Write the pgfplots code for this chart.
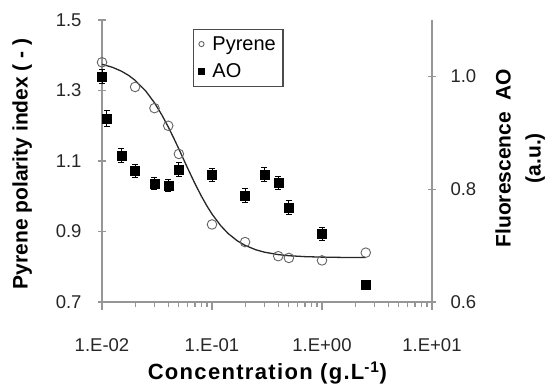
\documentclass[border=0pt]{standalone}
\usepackage{pgfplots}
\pgfplotsset{compat=1.18}
\usepackage{fontspec}
\setmainfont{Liberation Sans}
\definecolor{axgray}{RGB}{150,150,150}
\definecolor{mkgray}{RGB}{100,100,100}

\pgfplotstableread{
x y
0.01 1.38
0.02 1.31
0.03 1.25
0.04 1.20
0.05 1.12
0.1 0.92
0.2 0.87
0.4 0.83
0.5 0.825
1.0 0.818
2.5 0.84
}\pyrene

\pgfplotstableread{
x y e
0.01 1.000 0.012
0.011 0.925 0.014
0.015 0.860 0.013
0.02 0.832 0.012
0.03 0.810 0.011
0.04 0.807 0.011
0.05 0.835 0.012
0.1 0.825 0.012
0.2 0.789 0.012
0.3 0.826 0.012
0.4 0.811 0.012
0.5 0.768 0.012
1.0 0.721 0.012
2.5 0.630 0.008
}\ao

\pgfplotstableread{
x y
0.01 1.3745
0.0125 1.3656
0.015 1.3549
0.0175 1.3427
0.02 1.3289
0.025 1.2984
0.03 1.2652
0.035 1.2307
0.04 1.1969
0.045 1.1643
0.05 1.1340
0.055 1.1056
0.06 1.0799
0.07 1.0359
0.08 1.0006
0.09 0.9722
0.1 0.9496
0.12 0.9165
0.14 0.8945
0.17 0.8735
0.2 0.8606
0.25 0.8482
0.3 0.8413
0.4 0.8345
0.5 0.8313
0.7 0.8287
1.0 0.8273
1.5 0.8265
2.5 0.8260
}\fitc

\begin{document}
\begin{tikzpicture}
\begin{axis}[
  scale only axis, width=330pt, height=282pt,
  xmode=log, xmin=0.01, xmax=10,
  axis line style={axgray, line width=1.4pt, -},
  every tick/.style={axgray, line width=1.1pt},
  tick label style={font=\fontsize{18.5}{20}\selectfont, text=black!85},
  /pgf/number format/assume math mode=true,
  clip=false,
  ymin=0.7, ymax=1.5,
  axis x line*=bottom, axis y line*=left,
  ytick={0.7,0.9,1.1,1.3,1.5},
  yticklabel style={/pgf/number format/fixed, /pgf/number format/precision=1, /pgf/number format/fixed zerofill, xshift=-13pt},
  xtick={0.01,0.1,1,10}, xticklabels={1.E-02,1.E-01,1.E+00,1.E+01},
  xticklabel style={yshift=-25pt},
  ytick align=center, xtick align=outside,
  major tick length=8pt, minor tick length=5pt,
  xlabel={\addfontfeatures{LetterSpace=6}\textbf{Concentration (g.L\textsuperscript{-1})}},
  xlabel style={at={(axis description cs:0.503,-0.252)}, anchor=center, font=\fontsize{22}{24}\selectfont},
  ylabel={\textbf{Pyrene polarity index ( - )}},
  ylabel style={at={(axis description cs:-0.242,0.49)}, anchor=center, font=\fontsize{21}{23}\selectfont},
  legend style={name=leg, at={(axis description cs:0.276,0.968)}, anchor=north west, draw=black!70, fill=white, line width=0.8pt, font=\fontsize{20}{22}\selectfont, inner sep=5pt, row sep=8pt},
  legend cell align=left,
]
\coordinate (O) at (rel axis cs:0,0);
\addplot[black!85, line width=1.3pt, forget plot] table[x=x,y=y] {\fitc};
\addplot[only marks, mark=o, mark size=4.8pt, mark options={draw=mkgray, fill=white, line width=0.9pt}, legend image post style={mark size=2.6pt}] table[x=x,y=y] {\pyrene};
\addlegendentry{\hspace{6pt}Pyrene\hspace{7pt}}
\addlegendimage{only marks, mark=square*, mark size=3pt, mark options={fill=black, draw=black}}
\addlegendentry{\hspace{6pt}AO}
\end{axis}
\begin{axis}[
  scale only axis, width=330pt, height=282pt,
  xmode=log, xmin=0.01, xmax=10,
  axis line style={axgray, line width=1.4pt, -},
  every tick/.style={axgray, line width=1.1pt},
  tick label style={font=\fontsize{18.5}{20}\selectfont, text=black!85},
  /pgf/number format/assume math mode=true,
  clip=false,
  ymin=0.6, ymax=1.1,
  axis x line=none, axis y line*=right,
  ytick={0.6,0.8,1.0},
  yticklabel style={/pgf/number format/fixed, /pgf/number format/precision=1, /pgf/number format/fixed zerofill, xshift=11pt},
  ytick align=center, major tick length=8pt,
  ylabel={\textbf{Fluorescence \ AO}\\\textbf{(a.u.)}},
  ylabel style={at={(axis description cs:1.267,0.51)}, anchor=center, align=center, font=\fontsize{21}{30}\selectfont},
]
\addplot[only marks, mark=square*, mark size=4.5pt, mark options={fill=black, draw=black},
  error bars/.cd, y dir=both, y explicit,
  error bar style={black, line width=0.9pt},
  error mark options={black, mark size=3pt, line width=0.9pt, rotate=90}]
  table[x=x,y=y,y error=e] {\ao};
\end{axis}
\draw[black!70, line width=0.8pt] (leg.south west) rectangle (leg.north east);
\pgfresetboundingbox
\path (O) ++(-102pt,-87pt) rectangle ++(549pt,389pt);
\end{tikzpicture}
\end{document}
